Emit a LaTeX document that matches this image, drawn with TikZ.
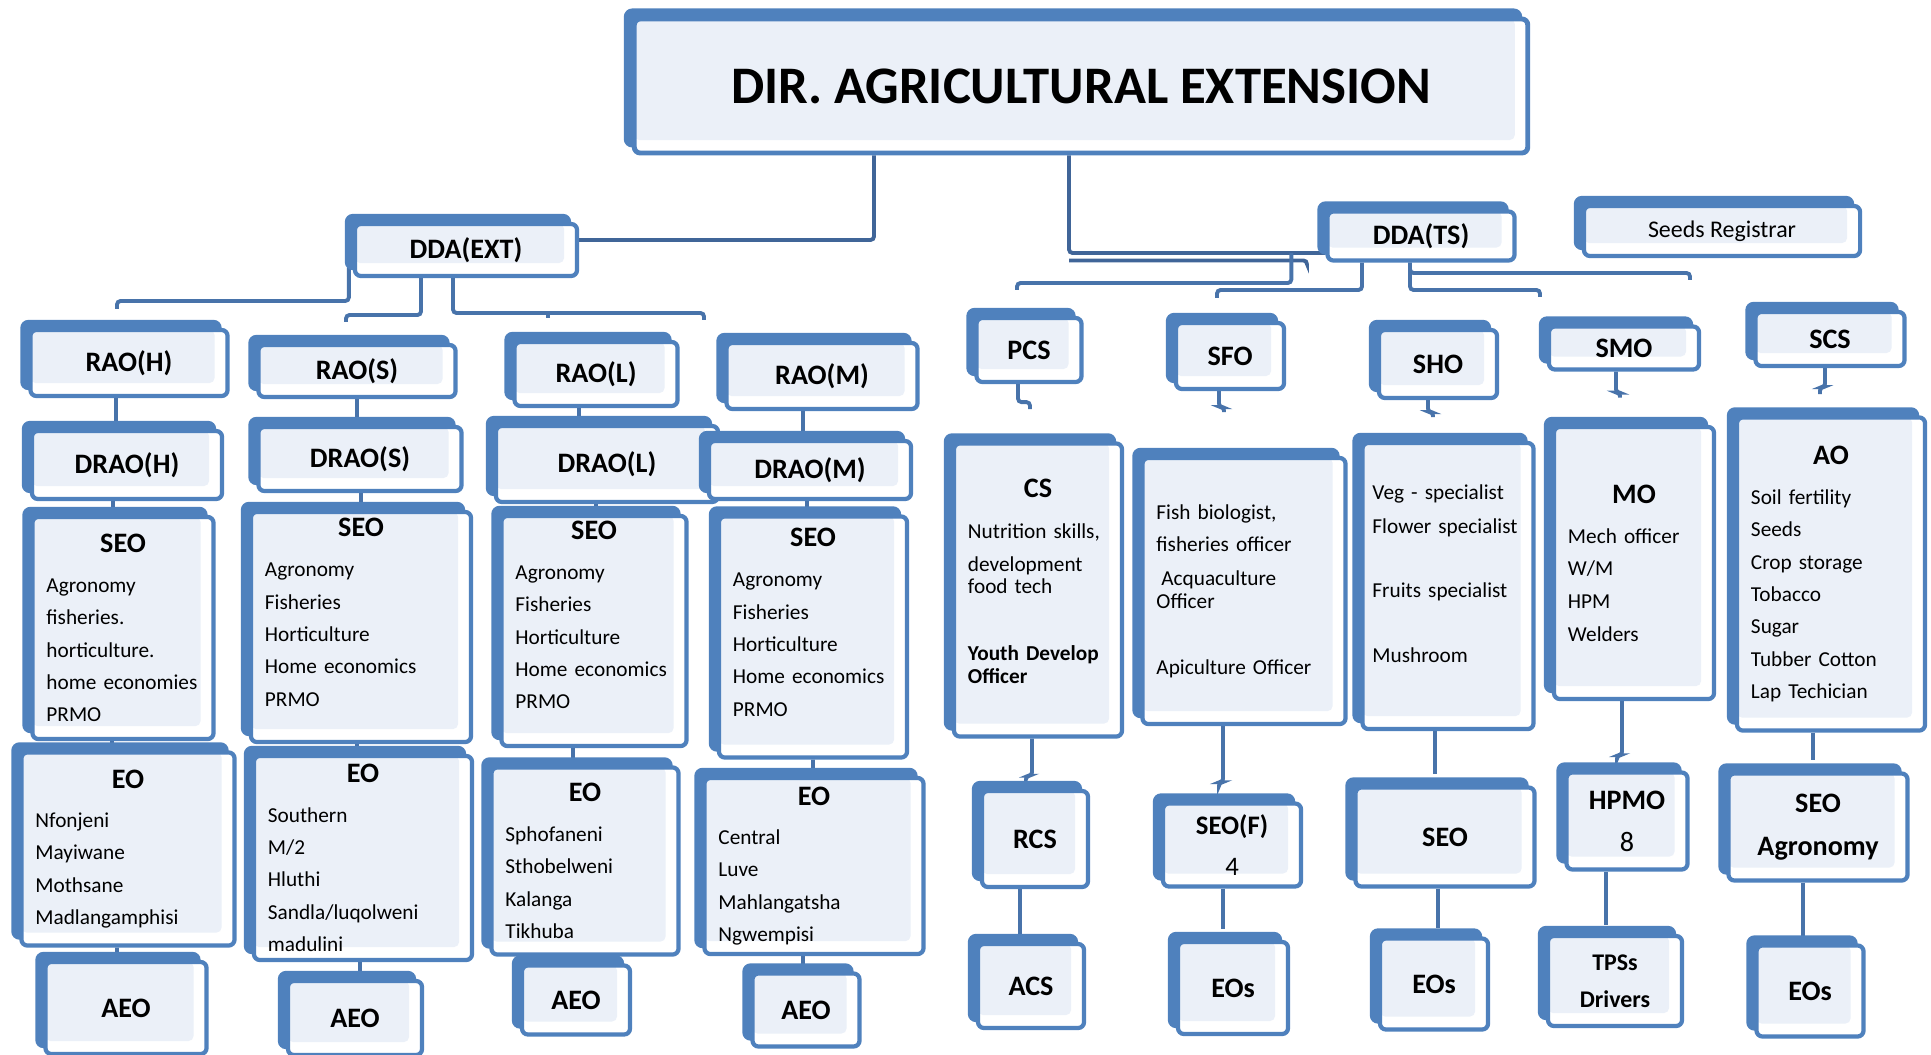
\documentclass[tikz,border=0pt]{standalone}
\usepackage{fontspec}
\setmainfont{Carlito}
\usepackage{xcolor}
\definecolor{orgblue}{RGB}{79,129,189}
\definecolor{orgline}{RGB}{72,115,170}
\definecolor{orgdark}{RGB}{64,101,152}
\definecolor{orgfill}{RGB}{235,240,248}
\usetikzlibrary{shadows,calc,backgrounds}
\newcommand{\boxhead}[1]{\makebox[\linewidth]{\fontsize{8}{9.6}\selectfont\bfseries #1}}

\begin{document}
\begin{tikzpicture}[x=0.01cm, y=-0.01cm,
    orgbox/.style={rectangle, rounded corners=0.06cm, draw=orgblue, line width=1.2pt,
                   fill=white, inner sep=0pt, align=center,
                   font=\fontsize{8}{9.6}\selectfont\bfseries,
                   copy shadow={shadow xshift=-0.08cm, shadow yshift=0.08cm,
                                fill=orgblue, draw=orgblue},
                   path picture={\fill[orgfill, rounded corners=0.05cm]
                     (path picture bounding box.north west) rectangle
                     ([shift={(-0.13cm,0.13cm)}]path picture bounding box.south east);}},
    listbox/.style={orgbox, align=left, inner xsep=0.14cm,
                    font=\fontsize{6.05}{9.2}\selectfont},
    conn/.style={orgline, line width=1.1pt, rounded corners=1pt}
  ]
  \useasboundingbox (0,0) rectangle (1931,1055);

  % Director and deputies
  \node[orgbox, minimum width=8.93cm, minimum height=1.34cm, line width=1.4pt,
        font=\fontsize{15}{18}\selectfont\bfseries] (dir) at (1081,86) {DIR. AGRICULTURAL EXTENSION};
  \node[orgbox, minimum width=2.22cm, minimum height=0.52cm] (ddaext) at (466,250) {DDA(EXT)};
  \node[orgbox, minimum width=1.87cm, minimum height=0.49cm] (ddats) at (1421,236) {DDA(TS)};
  \node[orgbox, minimum width=2.76cm, minimum height=0.50cm,
        font=\fontsize{6.8}{8}\selectfont] (seeds) at (1722,231) {Seeds Registrar};

  % Regional officers and subject heads
  \node[orgbox, minimum width=1.97cm, minimum height=0.66cm] (raoh) at (129,363) {RAO(H)};
  \node[orgbox, minimum width=1.97cm, minimum height=0.52cm] (raos) at (357,371) {RAO(S)};
  \node[orgbox, minimum width=1.63cm, minimum height=0.64cm] (raol) at (596,374) {RAO(L)};
  \node[orgbox, minimum width=1.91cm, minimum height=0.66cm] (raom) at (822,376) {RAO(M)};
  \node[orgbox, minimum width=1.05cm, minimum height=0.64cm] (pcs) at (1029,350) {PCS};
  \node[orgbox, minimum width=1.08cm, minimum height=0.66cm] (sfo) at (1230,356) {SFO};
  \node[orgbox, minimum width=1.18cm, minimum height=0.68cm] (sho) at (1438,364) {SHO};
  \node[orgbox, minimum width=1.50cm, minimum height=0.43cm] (smo) at (1624,348) {SMO};
  \node[orgbox, minimum width=1.49cm, minimum height=0.54cm] (scs) at (1830,339) {SCS};

  \node[orgbox, minimum width=1.90cm, minimum height=0.68cm] (draoh) at (127,465) {DRAO(H)};
  \node[orgbox, minimum width=2.03cm, minimum height=0.64cm] (draos) at (360,459) {DRAO(S)};
  \node[orgbox, minimum width=2.22cm, minimum height=0.76cm] (draol) at (607,464) {DRAO(L)};
  \node[orgbox, minimum width=2.02cm, minimum height=0.58cm] (draom) at (810,470) {DRAO(M)};

  % Senior extension officers
  \node[listbox, text width=1.53cm, minimum height=2.22cm] (seoa) at (123,628)
    {\boxhead{SEO}\\[2.2pt] Agronomy\\ fisheries.\\ horticulture.\\ home economies\\ PRMO};
  \node[listbox, text width=1.92cm, minimum height=2.30cm, text depth=56.6pt] (seob) at (361,627)
    {\boxhead{SEO}\\[2.2pt] Agronomy\\ Fisheries\\ Horticulture\\ Home economics\\ PRMO};
  \node[listbox, text width=1.57cm, minimum height=2.30cm, text depth=57.3pt] (seoc) at (594,631)
    {\boxhead{SEO}\\[2.2pt] Agronomy\\ Fisheries\\ Horticulture\\ Home economics\\ PRMO};
  \node[listbox, text width=1.60cm, minimum height=2.41cm, text depth=56.6pt] (seod) at (813,637)
    {\boxhead{SEO}\\[2.2pt] Agronomy\\ Fisheries\\ Horticulture\\ Home economics\\ PRMO};

  % Extension officers
  \node[listbox, text width=1.85cm, minimum height=1.93cm] (eoa) at (128,849)
    {\boxhead{EO}\\[2pt] Nfonjeni\\ Mayiwane\\ Mothsane\\ Madlangamphisi};
  \node[listbox, text width=1.90cm, minimum height=2.04cm] (eob) at (363,858)
    {\boxhead{EO}\\[2pt] Southern\\ M/2\\ Hluthi\\ Sandla/luqolweni\\ madulini};
  \node[listbox, text width=1.59cm, minimum height=1.87cm] (eoc) at (585,861)
    {\boxhead{EO}\\[2pt] Sphofaneni\\ Sthobelweni\\ Kalanga\\ Tikhuba};
  \node[listbox, text width=1.91cm, minimum height=1.76cm] (eod) at (814,866)
    {\boxhead{EO}\\[2pt] Central\\ Luve\\ Mahlangatsha\\ Ngwempisi};

  \node[orgbox, minimum width=1.61cm, minimum height=0.92cm] (aeoa) at (126,1008) {AEO};
  \node[orgbox, minimum width=1.34cm, minimum height=0.74cm] (aeob) at (355,1018) {AEO};
  \node[orgbox, minimum width=1.08cm, minimum height=0.69cm] (aeoc) at (576,1000) {AEO};
  \node[orgbox, minimum width=1.07cm, minimum height=0.73cm] (aeod) at (806,1010) {AEO};

  % Technical services
  \node[listbox, text width=1.40cm, minimum height=2.93cm, text depth=57.9pt] (cs) at (1038,590)
    {\boxhead{CS}\\[2.4pt] Nutrition skills,\\[0.3pt] development\\[-2.9pt] food tech\\[9.7pt]
     \textbf{Youth Develop}\\[-2.5pt] \textbf{Officer}};
  \node[listbox, text width=1.75cm, minimum height=2.66cm] (fish) at (1244,591)
    {Fish biologist,\\ fisheries officer\\[0.3pt] \hspace{1.4pt}Acquaculture\\[-2.5pt] Officer\\[9.4pt]
     Apiculture Officer};
  \node[listbox, inner xsep=0.1cm, text width=1.51cm, minimum height=2.86cm, text depth=53.3pt] (veg) at (1448,586)
    {Veg - specialist\\[0.3pt] Flower specialist\\[9pt] Fruits specialist\\[9.4pt] Mushroom};
  \node[listbox, text width=1.32cm, minimum height=2.72cm] (mo) at (1634,563)
    {\boxhead{MO}\\[2.2pt] Mech officer\\ W/M\\[0.3pt] HPM\\ Welders};
  \node[listbox, text width=1.60cm, minimum height=3.13cm] (ao) at (1831,574)
    {\boxhead{AO}\\[2.2pt] Soil fertility\\ Seeds\\ Crop storage\\ Tobacco\\ Sugar\\ Tubber Cotton\\ Lap Techician};

  \node[orgbox, minimum width=1.06cm, minimum height=0.96cm] (rcs) at (1035,839) {RCS};
  \node[orgbox, minimum width=1.38cm, minimum height=0.83cm, font=\fontsize{7.6}{9.6}\selectfont\bfseries]
    (seof) at (1232,845) {SEO(F)\\[2.3pt] {\mdseries 4}};
  \node[orgbox, minimum width=1.79cm, minimum height=0.99cm] (seov) at (1445,837) {SEO};
  \node[orgbox, minimum width=1.21cm, minimum height=0.97cm] (hpmo) at (1627,821) {HPMO\\[2.3pt] {\mdseries 8}};
  \node[orgbox, minimum width=1.79cm, minimum height=1.07cm] (seoag) at (1818,827) {SEO\\[2.7pt] Agronomy};

  \node[orgbox, minimum width=1.06cm, minimum height=0.84cm] (acs) at (1031,986) {ACS};
  \node[orgbox, minimum width=1.10cm, minimum height=0.92cm] (eosa) at (1233,988) {EOs};
  \node[orgbox, minimum width=1.08cm, minimum height=0.91cm] (eosb) at (1434,984) {EOs};
  \node[orgbox, minimum width=1.34cm, minimum height=0.90cm, font=\fontsize{6.8}{8.2}\selectfont\bfseries]
    (tps) at (1615,981) {TPSs\\[2.3pt] Drivers};
  \node[orgbox, minimum width=1.07cm, minimum height=0.91cm] (eosc) at (1810,991) {EOs};

  % Branch points
  \coordinate (extjoin) at (0,240);
  \coordinate (tsjoin) at (0,253);
  \coordinate (tsdrop) at (1307,264);
  \coordinate (bpcs) at (1017,283);
  \coordinate (bsfo) at (1217,290);
  \coordinate (bsho) at (1540,290);
  \coordinate (bsmo) at (1690,273);
  \coordinate (braoh) at (117,301);
  \coordinate (braos) at (346,315);
  \coordinate (braol) at (548,313);
  \coordinate (braom) at (704,313);

  \begin{scope}[on background layer]
    % Director links
    \draw[conn, orgdark] ($(dir.south)+(-207,0)$) |- (ddaext.east |- extjoin);
    \draw[conn, orgdark] ($(dir.south)+(-12,0)$) |- (ddats.west |- tsjoin);
    \draw[conn, orgdark] ($(dir.south)+(-12,105)$) -| (tsdrop);
    % Deputy branches
    \draw[conn] ($(ddats.west)+(-34,17)$) |- (bpcs) -- ++(0,7);
    \draw[conn] ($(ddats.south)+(-59,0)$) |- (bsfo) -- ++(0,8);
    \draw[conn] ($(ddats.south)+(-11,0)$) |- (bsho) -- ++(0,7);
    \draw[conn] ($(ddats.south)+(-11,0)$) |- (bsmo) -- ++(0,7);
    \draw[conn] ($(ddaext.west)+(-4,18)$) |- (braoh) -- ++(0,8);
    \draw[conn] ($(ddaext.south)+(-45,0)$) |- (braos) -- ++(0,7);
    \draw[conn] ($(ddaext.south)+(-13,0)$) |- (braom) -- ++(0,7);
    \draw[conn] (braol) -- ++(0,5);
    % Regional columns
    \foreach \a/\b/\dx in {raoh/draoh/-13, raos/draos/0, raol/draol/-17, raom/draom/-19,
                           draoh/seoa/-14, draos/seob/1, draol/seoc/-11, draom/seod/-3,
                           seoa/eoa/-11, seob/eob/-4, seoc/eoc/-21, seod/eod/0,
                           eoa/aeoa/-11, eob/aeob/-3, eoc/aeoc/-19, eod/aeod/-11}
      \draw[conn] (\a.south) ++(\dx,0) |- (\b.north);
    % Technical columns
    \draw[conn] (pcs.south) ++(-11,0) -- ++(0,18) -- ++(12,0) -- ++(0,7);
    \draw[conn] (sfo.south) ++(-11,0) -- ++(0,16) -- ++(5,0) -- ++(0,5);
    \draw[conn] (sho.south) ++(-10,0) -- ++(0,12) -- ++(5,0) -- ++(0,5);
    \draw[conn] (smo.south) ++(-8,0) -- ++(0,21) -- ++(4,0) -- ++(0,5);
    \draw[conn] (scs.south) ++(-5,0) -- ++(0,19) -- ++(-5,0) -- ++(0,7);
    \draw[conn] (cs.south) ++(-6,0) -- ++(0,37) -- ++(-6,0) -- ++(0,3);
    \draw[conn] (fish.south) ++(-21,0) -- ++(0,56) -- ++(-4,0) -- ++(0,3);
    \draw[conn] (veg.south) ++(-13,0) -- ++(0,43);
    \draw[conn] (mo.south) ++(-12,0) -- ++(0,54) -- ++(-5,0) -- ++(0,3);
    \draw[conn] (ao.south) ++(-18,0) -- ++(0,27);
    \draw[conn] (rcs.south) ++(-15,0) -- ++(0,45);
    \draw[conn] (seof.south) ++(-9,0) -- ++(0,40);
    \draw[conn] (seov.south) ++(-7,0) -- ++(0,39);
    \draw[conn] (hpmo.south) ++(-21,0) -- ++(0,53);
    \draw[conn] (seoag.south) ++(-15,0) -- ++(0,53);
  \end{scope}
\end{tikzpicture}
\end{document}
